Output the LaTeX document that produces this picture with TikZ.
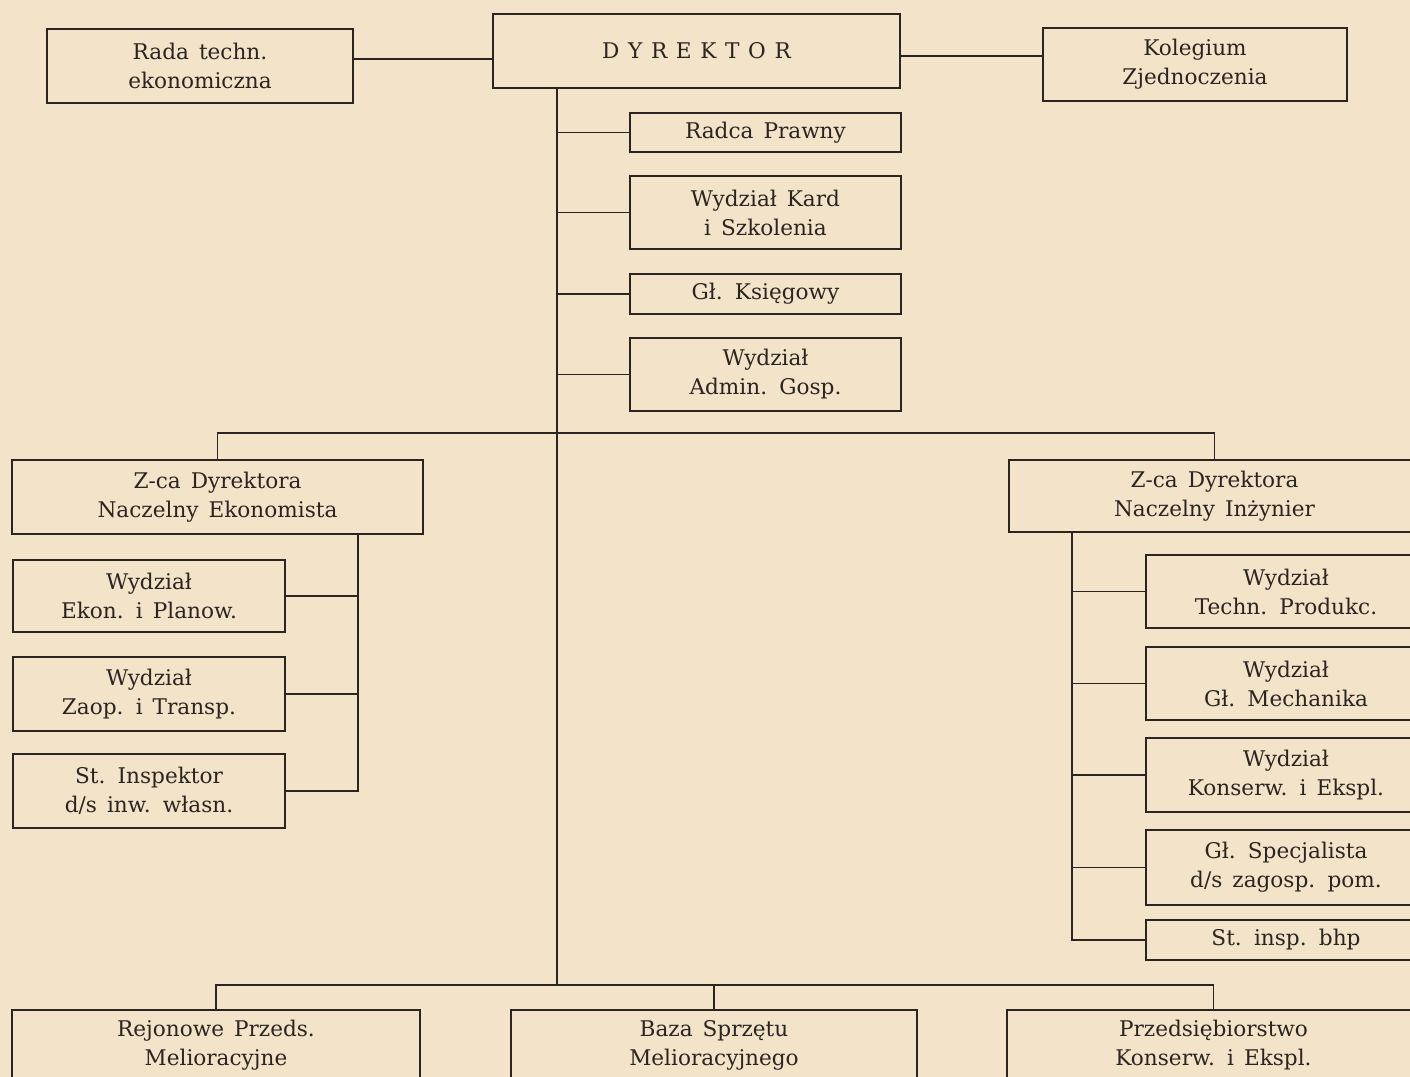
\documentclass[tikz,border=0pt]{standalone}
\usepackage{fontspec}
\setmainfont{DejaVu Serif}
\newfontfamily\spacedfont[LetterSpace=40]{DejaVu Serif}
\definecolor{paper}{RGB}{242,227,201}
\definecolor{ink}{RGB}{42,37,33}
\tikzset{
  unit/.style 2 args={minimum width=#1*0.5pt, minimum height=#2*0.5pt},
  box/.style={draw=ink, text=ink, line width=0.9pt, inner sep=0pt, align=center,
    font={\fontsize{10.8}{14.5}\selectfont\spaceskip=5pt plus 1pt}},
  link/.style={draw=ink, line width=0.9pt},
}
\begin{document}
\begin{tikzpicture}[x=0.5pt, y=-0.5pt]

    % Sheet
    \useasboundingbox (0,0) rectangle (1410,1077);
    \clip (0,0) rectangle (1410,1077);
    \fill[paper] (0,0) rectangle (1410,1077);

    %% Top row
    \node[box, unit={306}{74}] (rada) at (200,66) {Rada techn.\\ekonomiczna};
    \node[box, unit={407}{74}] (dyr) at (696.5,51) {\spacedfont DYREKTOR};
    \node[box, unit={304}{73}] (kol) at (1195,64.5) {Kolegium\\Zjednoczenia};

    % Staff of the director
    \node[box, unit={271}{39}] (radca) at (765.5,132.5) {Radca Prawny};
    \node[box, unit={271}{73}] (kadry) at (765.5,212.5) {Wydział Kard\\i Szkolenia};
    \node[box, unit={271}{40}] (ksieg) at (765.5,294) {Gł. Księgowy};
    \node[box, unit={271}{73}] (admin) at (765.5,374.5) {Wydział\\Admin. Gosp.};

    %% Deputies
    \node[box, unit={411}{74}] (ekon) at (217.5,497) {Z-ca Dyrektora\\Naczelny Ekonomista};
    \node[box, unit={411}{72}] (inz) at (1214.5,496) {Z-ca Dyrektora\\Naczelny Inżynier};

    % Economist's units
    \node[box, unit={272}{72}] (plan) at (149,596) {Wydział\\Ekon. i Planow.};
    \node[box, unit={272}{74}] (zaop) at (149,694) {Wydział\\Zaop. i Transp.};
    \node[box, unit={272}{74}] (insp) at (149,791) {St. Inspektor\\d/s inw. własn.};

    % Engineer's units
    \node[box, unit={280}{73}] (techn) at (1286,591.5) {Wydział\\Techn. Produkc.};
    \node[box, unit={280}{73}] (mech) at (1286,683.5) {Wydział\\Gł. Mechanika};
    \node[box, unit={280}{74}] (kons) at (1286,775) {Wydział\\Konserw. i Ekspl.};
    \node[box, unit={280}{75}] (spec) at (1286,867.5) {Gł. Specjalista\\d/s zagosp. pom.};
    \node[box, unit={280}{40}] (bhp) at (1286,940) {St. insp. bhp};

    %% Enterprises
    \node[box, unit={408}{70}] (rej) at (216,1045) {Rejonowe Przeds.\\Melioracyjne};
    \node[box, unit={406}{70}] (baza) at (714,1045) {Baza Sprzętu\\Melioracyjnego};
    \node[box, unit={413}{70}] (przed) at (1213.5,1045) {Przedsiębiorstwo\\Konserw. i Ekspl.};

    %% Junctions
    \coordinate (hub) at (557,433);
    \coordinate (base) at (557,985);
    \coordinate (ekx) at (358,534);
    \coordinate (inx) at (1072,532);
    \coordinate (rd) at ([yshift=3.5pt]rada.east);
    \coordinate (kd) at ([yshift=-2.5pt]dyr.east);

    % Side bodies
    \draw[link] (rd) -- (rd -| dyr.west);
    \draw[link] (kd) -- (kd -| kol.west);

    % Main trunk
    \draw[link] (dyr.south -| hub) -- (base);
    \draw[link] (radca.west) -- (radca.west -| hub);
    \draw[link] (kadry.west) -- (kadry.west -| hub);
    \draw[link] (ksieg.west) -- (ksieg.west -| hub);
    \draw[link] (admin.west) -- (admin.west -| hub);

    % Upper bus
    \draw[link] (ekon.north) |- (hub) -| (inz.north);

    % Lower bus
    \draw[link] (rej.north) |- (base) -| (przed.north);
    \draw[link] (baza.north) -- (baza.north |- base);

    % Economist's branch
    \draw[link] (ekon.south -| ekx) |- (insp.east);
    \draw[link] (plan.east) -- (plan.east -| ekx);
    \draw[link] (zaop.east) -- (zaop.east -| ekx);

    % Engineer's branch
    \draw[link] (inz.south -| inx) |- (bhp.west);
    \draw[link] (techn.west) -- (techn.west -| inx);
    \draw[link] (mech.west) -- (mech.west -| inx);
    \draw[link] (kons.west) -- (kons.west -| inx);
    \draw[link] (spec.west) -- (spec.west -| inx);

\end{tikzpicture}
\end{document}
